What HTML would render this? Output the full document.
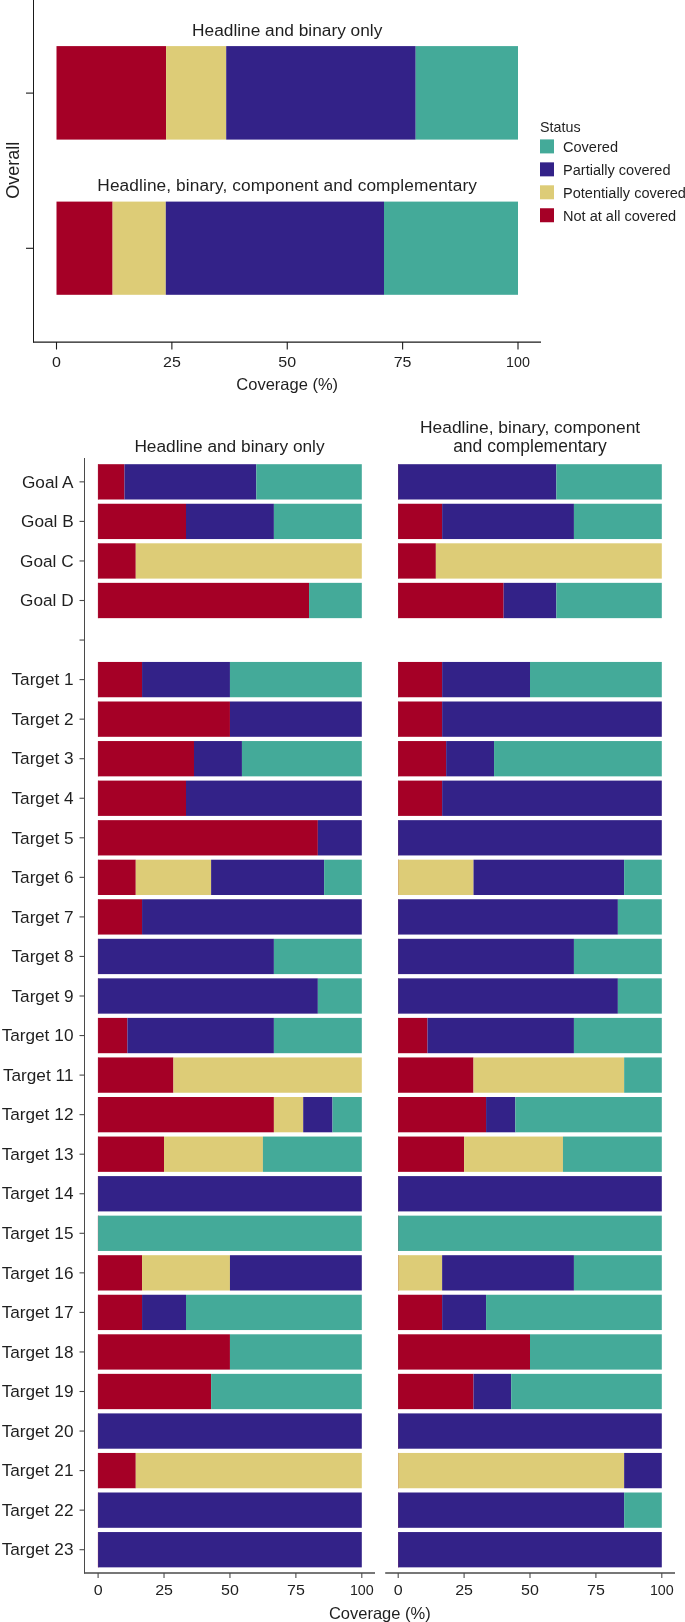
<!DOCTYPE html>
<html><head><meta charset="utf-8"><style>
html,body{margin:0;padding:0;background:#fff;overflow:hidden;}
svg{display:block;}
text{font-family:"Liberation Sans", sans-serif;fill:#1f1f1f;}
</style></head><body>
<div style="will-change:transform"><svg width="685" height="1622" viewBox="0 0 685 1622">
<rect width="685" height="1622" fill="#fff"/>
<line x1="33.5" y1="0" x2="33.5" y2="342.5" stroke="#1a1a1a" stroke-width="1"/>
<line x1="33" y1="342" x2="541" y2="342" stroke="#1a1a1a" stroke-width="1.25"/>
<line x1="26" y1="93.1" x2="33" y2="93.1" stroke="#1a1a1a" stroke-width="1.1"/>
<line x1="26" y1="248.3" x2="33" y2="248.3" stroke="#1a1a1a" stroke-width="1.1"/>
<line x1="56.5" y1="342" x2="56.5" y2="349.5" stroke="#1a1a1a" stroke-width="1.1"/>
<text transform="translate(56.50,366.80) scale(1.12,1)" font-size="14.3" text-anchor="middle">0</text>
<line x1="171.875" y1="342" x2="171.875" y2="349.5" stroke="#1a1a1a" stroke-width="1.1"/>
<text transform="translate(171.88,366.80) scale(1.12,1)" font-size="14.3" text-anchor="middle">25</text>
<line x1="287.25" y1="342" x2="287.25" y2="349.5" stroke="#1a1a1a" stroke-width="1.1"/>
<text transform="translate(287.25,366.80) scale(1.12,1)" font-size="14.3" text-anchor="middle">50</text>
<line x1="402.625" y1="342" x2="402.625" y2="349.5" stroke="#1a1a1a" stroke-width="1.1"/>
<text transform="translate(402.62,366.80) scale(1.12,1)" font-size="14.3" text-anchor="middle">75</text>
<line x1="518.0" y1="342" x2="518.0" y2="349.5" stroke="#1a1a1a" stroke-width="1.1"/>
<text transform="translate(518.00,366.80) scale(1.0,1)" font-size="14.3" text-anchor="middle">100</text>
<text x="287.20" y="389.70" font-size="16.5" text-anchor="middle" >Coverage (%)</text>
<rect x="56.50" y="46.10" width="109.60" height="93.50" fill="#A50026"/>
<rect x="166.10" y="46.10" width="60.10" height="93.50" fill="#DDCC77"/>
<rect x="226.20" y="46.10" width="189.50" height="93.50" fill="#332288"/>
<rect x="415.70" y="46.10" width="102.30" height="93.50" fill="#44AA99"/>
<rect x="56.50" y="201.60" width="56.10" height="93.20" fill="#A50026"/>
<rect x="112.60" y="201.60" width="53.20" height="93.20" fill="#DDCC77"/>
<rect x="165.80" y="201.60" width="218.20" height="93.20" fill="#332288"/>
<rect x="384.00" y="201.60" width="134.00" height="93.20" fill="#44AA99"/>
<text x="287.20" y="36.30" font-size="17.3" text-anchor="middle" >Headline and binary only</text>
<text x="287.20" y="190.90" font-size="17.3" text-anchor="middle" letter-spacing="0.1">Headline, binary, component and complementary</text>
<text x="0" y="0" font-size="18" text-anchor="middle" transform="translate(19.3,170.2) rotate(-90)">Overall</text>
<text x="540.00" y="131.50" font-size="14.3" text-anchor="start" >Status</text>
<rect x="540.00" y="139.40" width="14.00" height="14.00" fill="#44AA99"/>
<text x="563.00" y="151.80" font-size="14.55" text-anchor="start" >Covered</text>
<rect x="540.00" y="162.35" width="14.00" height="14.00" fill="#332288"/>
<text x="563.00" y="174.75" font-size="14.55" text-anchor="start" >Partially covered</text>
<rect x="540.00" y="185.30" width="14.00" height="14.00" fill="#DDCC77"/>
<text x="563.00" y="197.70" font-size="14.55" text-anchor="start" >Potentially covered</text>
<rect x="540.00" y="208.25" width="14.00" height="14.00" fill="#A50026"/>
<text x="563.00" y="220.65" font-size="14.55" text-anchor="start" >Not at all covered</text>
<line x1="79.5" y1="481.84999999999997" x2="84.5" y2="481.84999999999997" stroke="#4a4a4a" stroke-width="1.1"/>
<text x="73.60" y="487.55" font-size="17.2" text-anchor="end" >Goal A</text>
<rect x="97.90" y="464.20" width="0.70" height="35.30" fill="#A50026"/>
<rect x="98.10" y="464.20" width="26.37" height="35.30" fill="#A50026"/>
<rect x="124.47" y="464.20" width="131.85" height="35.30" fill="#332288"/>
<rect x="256.32" y="464.20" width="105.48" height="35.30" fill="#44AA99"/>
<rect x="398.00" y="464.20" width="0.70" height="35.30" fill="#A50026"/>
<rect x="398.20" y="464.20" width="158.16" height="35.30" fill="#332288"/>
<rect x="556.36" y="464.20" width="105.44" height="35.30" fill="#44AA99"/>
<line x1="79.5" y1="521.4" x2="84.5" y2="521.4" stroke="#4a4a4a" stroke-width="1.1"/>
<text x="73.60" y="527.10" font-size="17.2" text-anchor="end" >Goal B</text>
<rect x="97.90" y="503.75" width="0.70" height="35.30" fill="#A50026"/>
<rect x="98.10" y="503.75" width="87.90" height="35.30" fill="#A50026"/>
<rect x="186.00" y="503.75" width="87.90" height="35.30" fill="#332288"/>
<rect x="273.90" y="503.75" width="87.90" height="35.30" fill="#44AA99"/>
<rect x="398.00" y="503.75" width="0.70" height="35.30" fill="#A50026"/>
<rect x="398.20" y="503.75" width="43.93" height="35.30" fill="#A50026"/>
<rect x="442.13" y="503.75" width="131.80" height="35.30" fill="#332288"/>
<rect x="573.93" y="503.75" width="87.87" height="35.30" fill="#44AA99"/>
<line x1="79.5" y1="560.9499999999999" x2="84.5" y2="560.9499999999999" stroke="#4a4a4a" stroke-width="1.1"/>
<text x="73.60" y="566.65" font-size="17.2" text-anchor="end" >Goal C</text>
<rect x="97.90" y="543.30" width="0.70" height="35.30" fill="#A50026"/>
<rect x="98.10" y="543.30" width="37.67" height="35.30" fill="#A50026"/>
<rect x="135.77" y="543.30" width="226.03" height="35.30" fill="#DDCC77"/>
<rect x="398.00" y="543.30" width="0.70" height="35.30" fill="#A50026"/>
<rect x="398.20" y="543.30" width="37.66" height="35.30" fill="#A50026"/>
<rect x="435.86" y="543.30" width="225.94" height="35.30" fill="#DDCC77"/>
<line x1="79.5" y1="600.5" x2="84.5" y2="600.5" stroke="#4a4a4a" stroke-width="1.1"/>
<text x="73.60" y="606.20" font-size="17.2" text-anchor="end" >Goal D</text>
<rect x="97.90" y="582.85" width="0.70" height="35.30" fill="#A50026"/>
<rect x="98.10" y="582.85" width="210.96" height="35.30" fill="#A50026"/>
<rect x="309.06" y="582.85" width="52.74" height="35.30" fill="#44AA99"/>
<rect x="398.00" y="582.85" width="0.70" height="35.30" fill="#A50026"/>
<rect x="398.20" y="582.85" width="105.44" height="35.30" fill="#A50026"/>
<rect x="503.64" y="582.85" width="52.72" height="35.30" fill="#332288"/>
<rect x="556.36" y="582.85" width="105.44" height="35.30" fill="#44AA99"/>
<line x1="79.5" y1="640.05" x2="84.5" y2="640.05" stroke="#4a4a4a" stroke-width="1.1"/>
<line x1="79.5" y1="679.6" x2="84.5" y2="679.6" stroke="#4a4a4a" stroke-width="1.1"/>
<text x="73.60" y="685.30" font-size="17.2" text-anchor="end" >Target 1</text>
<rect x="97.90" y="661.95" width="0.70" height="35.30" fill="#A50026"/>
<rect x="98.10" y="661.95" width="43.95" height="35.30" fill="#A50026"/>
<rect x="142.05" y="661.95" width="87.90" height="35.30" fill="#332288"/>
<rect x="229.95" y="661.95" width="131.85" height="35.30" fill="#44AA99"/>
<rect x="398.00" y="661.95" width="0.70" height="35.30" fill="#A50026"/>
<rect x="398.20" y="661.95" width="43.93" height="35.30" fill="#A50026"/>
<rect x="442.13" y="661.95" width="87.87" height="35.30" fill="#332288"/>
<rect x="530.00" y="661.95" width="131.80" height="35.30" fill="#44AA99"/>
<line x1="79.5" y1="719.15" x2="84.5" y2="719.15" stroke="#4a4a4a" stroke-width="1.1"/>
<text x="73.60" y="724.85" font-size="17.2" text-anchor="end" >Target 2</text>
<rect x="97.90" y="701.50" width="0.70" height="35.30" fill="#A50026"/>
<rect x="98.10" y="701.50" width="131.85" height="35.30" fill="#A50026"/>
<rect x="229.95" y="701.50" width="131.85" height="35.30" fill="#332288"/>
<rect x="398.00" y="701.50" width="0.70" height="35.30" fill="#A50026"/>
<rect x="398.20" y="701.50" width="43.93" height="35.30" fill="#A50026"/>
<rect x="442.13" y="701.50" width="219.67" height="35.30" fill="#332288"/>
<line x1="79.5" y1="758.6999999999999" x2="84.5" y2="758.6999999999999" stroke="#4a4a4a" stroke-width="1.1"/>
<text x="73.60" y="764.40" font-size="17.2" text-anchor="end" >Target 3</text>
<rect x="97.90" y="741.05" width="0.70" height="35.30" fill="#A50026"/>
<rect x="98.10" y="741.05" width="95.89" height="35.30" fill="#A50026"/>
<rect x="193.99" y="741.05" width="47.95" height="35.30" fill="#332288"/>
<rect x="241.94" y="741.05" width="119.86" height="35.30" fill="#44AA99"/>
<rect x="398.00" y="741.05" width="0.70" height="35.30" fill="#A50026"/>
<rect x="398.20" y="741.05" width="47.93" height="35.30" fill="#A50026"/>
<rect x="446.13" y="741.05" width="47.93" height="35.30" fill="#332288"/>
<rect x="494.05" y="741.05" width="167.75" height="35.30" fill="#44AA99"/>
<line x1="79.5" y1="798.2499999999999" x2="84.5" y2="798.2499999999999" stroke="#4a4a4a" stroke-width="1.1"/>
<text x="73.60" y="803.95" font-size="17.2" text-anchor="end" >Target 4</text>
<rect x="97.90" y="780.60" width="0.70" height="35.30" fill="#A50026"/>
<rect x="98.10" y="780.60" width="87.90" height="35.30" fill="#A50026"/>
<rect x="186.00" y="780.60" width="175.80" height="35.30" fill="#332288"/>
<rect x="398.00" y="780.60" width="0.70" height="35.30" fill="#A50026"/>
<rect x="398.20" y="780.60" width="43.93" height="35.30" fill="#A50026"/>
<rect x="442.13" y="780.60" width="219.67" height="35.30" fill="#332288"/>
<line x1="79.5" y1="837.8" x2="84.5" y2="837.8" stroke="#4a4a4a" stroke-width="1.1"/>
<text x="73.60" y="843.50" font-size="17.2" text-anchor="end" >Target 5</text>
<rect x="97.90" y="820.15" width="0.70" height="35.30" fill="#A50026"/>
<rect x="98.10" y="820.15" width="219.75" height="35.30" fill="#A50026"/>
<rect x="317.85" y="820.15" width="43.95" height="35.30" fill="#332288"/>
<rect x="398.00" y="820.15" width="0.70" height="35.30" fill="#A50026"/>
<rect x="398.20" y="820.15" width="263.60" height="35.30" fill="#332288"/>
<line x1="79.5" y1="877.35" x2="84.5" y2="877.35" stroke="#4a4a4a" stroke-width="1.1"/>
<text x="73.60" y="883.05" font-size="17.2" text-anchor="end" >Target 6</text>
<rect x="97.90" y="859.70" width="0.70" height="35.30" fill="#A50026"/>
<rect x="98.10" y="859.70" width="37.67" height="35.30" fill="#A50026"/>
<rect x="135.77" y="859.70" width="75.34" height="35.30" fill="#DDCC77"/>
<rect x="211.11" y="859.70" width="113.01" height="35.30" fill="#332288"/>
<rect x="324.13" y="859.70" width="37.67" height="35.30" fill="#44AA99"/>
<rect x="398.00" y="859.70" width="0.70" height="35.30" fill="#A50026"/>
<rect x="398.20" y="859.70" width="75.31" height="35.30" fill="#DDCC77"/>
<rect x="473.51" y="859.70" width="150.63" height="35.30" fill="#332288"/>
<rect x="624.14" y="859.70" width="37.66" height="35.30" fill="#44AA99"/>
<line x1="79.5" y1="916.9" x2="84.5" y2="916.9" stroke="#4a4a4a" stroke-width="1.1"/>
<text x="73.60" y="922.60" font-size="17.2" text-anchor="end" >Target 7</text>
<rect x="97.90" y="899.25" width="0.70" height="35.30" fill="#A50026"/>
<rect x="98.10" y="899.25" width="43.95" height="35.30" fill="#A50026"/>
<rect x="142.05" y="899.25" width="219.75" height="35.30" fill="#332288"/>
<rect x="398.00" y="899.25" width="0.70" height="35.30" fill="#A50026"/>
<rect x="398.20" y="899.25" width="219.67" height="35.30" fill="#332288"/>
<rect x="617.87" y="899.25" width="43.93" height="35.30" fill="#44AA99"/>
<line x1="79.5" y1="956.4499999999999" x2="84.5" y2="956.4499999999999" stroke="#4a4a4a" stroke-width="1.1"/>
<text x="73.60" y="962.15" font-size="17.2" text-anchor="end" >Target 8</text>
<rect x="97.90" y="938.80" width="0.70" height="35.30" fill="#A50026"/>
<rect x="98.10" y="938.80" width="175.80" height="35.30" fill="#332288"/>
<rect x="273.90" y="938.80" width="87.90" height="35.30" fill="#44AA99"/>
<rect x="398.00" y="938.80" width="0.70" height="35.30" fill="#A50026"/>
<rect x="398.20" y="938.80" width="175.73" height="35.30" fill="#332288"/>
<rect x="573.93" y="938.80" width="87.87" height="35.30" fill="#44AA99"/>
<line x1="79.5" y1="995.9999999999999" x2="84.5" y2="995.9999999999999" stroke="#4a4a4a" stroke-width="1.1"/>
<text x="73.60" y="1001.70" font-size="17.2" text-anchor="end" >Target 9</text>
<rect x="97.90" y="978.35" width="0.70" height="35.30" fill="#A50026"/>
<rect x="98.10" y="978.35" width="219.75" height="35.30" fill="#332288"/>
<rect x="317.85" y="978.35" width="43.95" height="35.30" fill="#44AA99"/>
<rect x="398.00" y="978.35" width="0.70" height="35.30" fill="#A50026"/>
<rect x="398.20" y="978.35" width="219.67" height="35.30" fill="#332288"/>
<rect x="617.87" y="978.35" width="43.93" height="35.30" fill="#44AA99"/>
<line x1="79.5" y1="1035.55" x2="84.5" y2="1035.55" stroke="#4a4a4a" stroke-width="1.1"/>
<text x="73.60" y="1041.25" font-size="17.2" text-anchor="end" >Target 1<tspan dx="0.3">0</tspan></text>
<rect x="97.90" y="1017.90" width="0.70" height="35.30" fill="#A50026"/>
<rect x="98.10" y="1017.90" width="29.30" height="35.30" fill="#A50026"/>
<rect x="127.40" y="1017.90" width="146.50" height="35.30" fill="#332288"/>
<rect x="273.90" y="1017.90" width="87.90" height="35.30" fill="#44AA99"/>
<rect x="398.00" y="1017.90" width="0.70" height="35.30" fill="#A50026"/>
<rect x="398.20" y="1017.90" width="29.29" height="35.30" fill="#A50026"/>
<rect x="427.49" y="1017.90" width="146.44" height="35.30" fill="#332288"/>
<rect x="573.93" y="1017.90" width="87.87" height="35.30" fill="#44AA99"/>
<line x1="79.5" y1="1075.1000000000001" x2="84.5" y2="1075.1000000000001" stroke="#4a4a4a" stroke-width="1.1"/>
<text x="73.60" y="1080.80" font-size="17.2" text-anchor="end" >Target 1<tspan dx="0.3">1</tspan></text>
<rect x="97.90" y="1057.45" width="0.70" height="35.30" fill="#A50026"/>
<rect x="98.10" y="1057.45" width="75.34" height="35.30" fill="#A50026"/>
<rect x="173.44" y="1057.45" width="188.36" height="35.30" fill="#DDCC77"/>
<rect x="398.00" y="1057.45" width="0.70" height="35.30" fill="#A50026"/>
<rect x="398.20" y="1057.45" width="75.31" height="35.30" fill="#A50026"/>
<rect x="473.51" y="1057.45" width="150.63" height="35.30" fill="#DDCC77"/>
<rect x="624.14" y="1057.45" width="37.66" height="35.30" fill="#44AA99"/>
<line x1="79.5" y1="1114.65" x2="84.5" y2="1114.65" stroke="#4a4a4a" stroke-width="1.1"/>
<text x="73.60" y="1120.35" font-size="17.2" text-anchor="end" >Target 1<tspan dx="0.3">2</tspan></text>
<rect x="97.90" y="1097.00" width="0.70" height="35.30" fill="#A50026"/>
<rect x="98.10" y="1097.00" width="175.80" height="35.30" fill="#A50026"/>
<rect x="273.90" y="1097.00" width="29.30" height="35.30" fill="#DDCC77"/>
<rect x="303.20" y="1097.00" width="29.30" height="35.30" fill="#332288"/>
<rect x="332.50" y="1097.00" width="29.30" height="35.30" fill="#44AA99"/>
<rect x="398.00" y="1097.00" width="0.70" height="35.30" fill="#A50026"/>
<rect x="398.20" y="1097.00" width="87.87" height="35.30" fill="#A50026"/>
<rect x="486.07" y="1097.00" width="29.29" height="35.30" fill="#332288"/>
<rect x="515.36" y="1097.00" width="146.44" height="35.30" fill="#44AA99"/>
<line x1="79.5" y1="1154.2" x2="84.5" y2="1154.2" stroke="#4a4a4a" stroke-width="1.1"/>
<text x="73.60" y="1159.90" font-size="17.2" text-anchor="end" >Target 1<tspan dx="0.3">3</tspan></text>
<rect x="97.90" y="1136.55" width="0.70" height="35.30" fill="#A50026"/>
<rect x="98.10" y="1136.55" width="65.93" height="35.30" fill="#A50026"/>
<rect x="164.03" y="1136.55" width="98.89" height="35.30" fill="#DDCC77"/>
<rect x="262.91" y="1136.55" width="98.89" height="35.30" fill="#44AA99"/>
<rect x="398.00" y="1136.55" width="0.70" height="35.30" fill="#A50026"/>
<rect x="398.20" y="1136.55" width="65.90" height="35.30" fill="#A50026"/>
<rect x="464.10" y="1136.55" width="98.85" height="35.30" fill="#DDCC77"/>
<rect x="562.95" y="1136.55" width="98.85" height="35.30" fill="#44AA99"/>
<line x1="79.5" y1="1193.75" x2="84.5" y2="1193.75" stroke="#4a4a4a" stroke-width="1.1"/>
<text x="73.60" y="1199.45" font-size="17.2" text-anchor="end" >Target 1<tspan dx="0.3">4</tspan></text>
<rect x="97.90" y="1176.10" width="0.70" height="35.30" fill="#A50026"/>
<rect x="98.10" y="1176.10" width="263.70" height="35.30" fill="#332288"/>
<rect x="398.00" y="1176.10" width="0.70" height="35.30" fill="#A50026"/>
<rect x="398.20" y="1176.10" width="263.60" height="35.30" fill="#332288"/>
<line x1="79.5" y1="1233.3" x2="84.5" y2="1233.3" stroke="#4a4a4a" stroke-width="1.1"/>
<text x="73.60" y="1239.00" font-size="17.2" text-anchor="end" >Target 1<tspan dx="0.3">5</tspan></text>
<rect x="97.90" y="1215.65" width="0.70" height="35.30" fill="#A50026"/>
<rect x="98.10" y="1215.65" width="263.70" height="35.30" fill="#44AA99"/>
<rect x="398.00" y="1215.65" width="0.70" height="35.30" fill="#A50026"/>
<rect x="398.20" y="1215.65" width="263.60" height="35.30" fill="#44AA99"/>
<line x1="79.5" y1="1272.8500000000001" x2="84.5" y2="1272.8500000000001" stroke="#4a4a4a" stroke-width="1.1"/>
<text x="73.60" y="1278.55" font-size="17.2" text-anchor="end" >Target 1<tspan dx="0.3">6</tspan></text>
<rect x="97.90" y="1255.20" width="0.70" height="35.30" fill="#A50026"/>
<rect x="98.10" y="1255.20" width="43.95" height="35.30" fill="#A50026"/>
<rect x="142.05" y="1255.20" width="87.90" height="35.30" fill="#DDCC77"/>
<rect x="229.95" y="1255.20" width="131.85" height="35.30" fill="#332288"/>
<rect x="398.00" y="1255.20" width="0.70" height="35.30" fill="#A50026"/>
<rect x="398.20" y="1255.20" width="43.93" height="35.30" fill="#DDCC77"/>
<rect x="442.13" y="1255.20" width="131.80" height="35.30" fill="#332288"/>
<rect x="573.93" y="1255.20" width="87.87" height="35.30" fill="#44AA99"/>
<line x1="79.5" y1="1312.4" x2="84.5" y2="1312.4" stroke="#4a4a4a" stroke-width="1.1"/>
<text x="73.60" y="1318.10" font-size="17.2" text-anchor="end" >Target 1<tspan dx="0.3">7</tspan></text>
<rect x="97.90" y="1294.75" width="0.70" height="35.30" fill="#A50026"/>
<rect x="98.10" y="1294.75" width="43.95" height="35.30" fill="#A50026"/>
<rect x="142.05" y="1294.75" width="43.95" height="35.30" fill="#332288"/>
<rect x="186.00" y="1294.75" width="175.80" height="35.30" fill="#44AA99"/>
<rect x="398.00" y="1294.75" width="0.70" height="35.30" fill="#A50026"/>
<rect x="398.20" y="1294.75" width="43.93" height="35.30" fill="#A50026"/>
<rect x="442.13" y="1294.75" width="43.93" height="35.30" fill="#332288"/>
<rect x="486.07" y="1294.75" width="175.73" height="35.30" fill="#44AA99"/>
<line x1="79.5" y1="1351.95" x2="84.5" y2="1351.95" stroke="#4a4a4a" stroke-width="1.1"/>
<text x="73.60" y="1357.65" font-size="17.2" text-anchor="end" >Target 1<tspan dx="0.3">8</tspan></text>
<rect x="97.90" y="1334.30" width="0.70" height="35.30" fill="#A50026"/>
<rect x="98.10" y="1334.30" width="131.85" height="35.30" fill="#A50026"/>
<rect x="229.95" y="1334.30" width="131.85" height="35.30" fill="#44AA99"/>
<rect x="398.00" y="1334.30" width="0.70" height="35.30" fill="#A50026"/>
<rect x="398.20" y="1334.30" width="131.80" height="35.30" fill="#A50026"/>
<rect x="530.00" y="1334.30" width="131.80" height="35.30" fill="#44AA99"/>
<line x1="79.5" y1="1391.5" x2="84.5" y2="1391.5" stroke="#4a4a4a" stroke-width="1.1"/>
<text x="73.60" y="1397.20" font-size="17.2" text-anchor="end" >Target 1<tspan dx="0.3">9</tspan></text>
<rect x="97.90" y="1373.85" width="0.70" height="35.30" fill="#A50026"/>
<rect x="98.10" y="1373.85" width="113.01" height="35.30" fill="#A50026"/>
<rect x="211.11" y="1373.85" width="150.69" height="35.30" fill="#44AA99"/>
<rect x="398.00" y="1373.85" width="0.70" height="35.30" fill="#A50026"/>
<rect x="398.20" y="1373.85" width="75.31" height="35.30" fill="#A50026"/>
<rect x="473.51" y="1373.85" width="37.66" height="35.30" fill="#332288"/>
<rect x="511.17" y="1373.85" width="150.63" height="35.30" fill="#44AA99"/>
<line x1="79.5" y1="1431.05" x2="84.5" y2="1431.05" stroke="#4a4a4a" stroke-width="1.1"/>
<text x="73.60" y="1436.75" font-size="17.2" text-anchor="end" >Target 2<tspan dx="0.3">0</tspan></text>
<rect x="97.90" y="1413.40" width="0.70" height="35.30" fill="#A50026"/>
<rect x="98.10" y="1413.40" width="263.70" height="35.30" fill="#332288"/>
<rect x="398.00" y="1413.40" width="0.70" height="35.30" fill="#A50026"/>
<rect x="398.20" y="1413.40" width="263.60" height="35.30" fill="#332288"/>
<line x1="79.5" y1="1470.6" x2="84.5" y2="1470.6" stroke="#4a4a4a" stroke-width="1.1"/>
<text x="73.60" y="1476.30" font-size="17.2" text-anchor="end" >Target 2<tspan dx="0.3">1</tspan></text>
<rect x="97.90" y="1452.95" width="0.70" height="35.30" fill="#A50026"/>
<rect x="98.10" y="1452.95" width="37.67" height="35.30" fill="#A50026"/>
<rect x="135.77" y="1452.95" width="226.03" height="35.30" fill="#DDCC77"/>
<rect x="398.00" y="1452.95" width="0.70" height="35.30" fill="#A50026"/>
<rect x="398.20" y="1452.95" width="225.94" height="35.30" fill="#DDCC77"/>
<rect x="624.14" y="1452.95" width="37.66" height="35.30" fill="#332288"/>
<line x1="79.5" y1="1510.15" x2="84.5" y2="1510.15" stroke="#4a4a4a" stroke-width="1.1"/>
<text x="73.60" y="1515.85" font-size="17.2" text-anchor="end" >Target 2<tspan dx="0.3">2</tspan></text>
<rect x="97.90" y="1492.50" width="0.70" height="35.30" fill="#A50026"/>
<rect x="98.10" y="1492.50" width="263.70" height="35.30" fill="#332288"/>
<rect x="398.00" y="1492.50" width="0.70" height="35.30" fill="#A50026"/>
<rect x="398.20" y="1492.50" width="225.94" height="35.30" fill="#332288"/>
<rect x="624.14" y="1492.50" width="37.66" height="35.30" fill="#44AA99"/>
<line x1="79.5" y1="1549.7" x2="84.5" y2="1549.7" stroke="#4a4a4a" stroke-width="1.1"/>
<text x="73.60" y="1555.40" font-size="17.2" text-anchor="end" >Target 2<tspan dx="0.3">3</tspan></text>
<rect x="97.90" y="1532.05" width="0.70" height="35.30" fill="#A50026"/>
<rect x="98.10" y="1532.05" width="263.70" height="35.30" fill="#332288"/>
<rect x="398.00" y="1532.05" width="0.70" height="35.30" fill="#A50026"/>
<rect x="398.20" y="1532.05" width="263.60" height="35.30" fill="#332288"/>
<line x1="84.5" y1="458" x2="84.5" y2="1573.5" stroke="#4a4a4a" stroke-width="1"/>
<line x1="84" y1="1573" x2="375" y2="1573" stroke="#4a4a4a" stroke-width="1.3"/>
<line x1="385.2" y1="1573" x2="675" y2="1573" stroke="#4a4a4a" stroke-width="1.3"/>
<line x1="98.1" y1="1573" x2="98.1" y2="1578" stroke="#4a4a4a" stroke-width="1.1"/>
<text transform="translate(98.10,1595.30) scale(1.12,1)" font-size="14.3" text-anchor="middle">0</text>
<line x1="164.025" y1="1573" x2="164.025" y2="1578" stroke="#4a4a4a" stroke-width="1.1"/>
<text transform="translate(164.03,1595.30) scale(1.12,1)" font-size="14.3" text-anchor="middle">25</text>
<line x1="229.95000000000002" y1="1573" x2="229.95000000000002" y2="1578" stroke="#4a4a4a" stroke-width="1.1"/>
<text transform="translate(229.95,1595.30) scale(1.12,1)" font-size="14.3" text-anchor="middle">50</text>
<line x1="295.875" y1="1573" x2="295.875" y2="1578" stroke="#4a4a4a" stroke-width="1.1"/>
<text transform="translate(295.88,1595.30) scale(1.12,1)" font-size="14.3" text-anchor="middle">75</text>
<line x1="361.80000000000007" y1="1573" x2="361.80000000000007" y2="1578" stroke="#4a4a4a" stroke-width="1.1"/>
<text transform="translate(361.80,1595.30) scale(1.0,1)" font-size="14.3" text-anchor="middle">100</text>
<line x1="398.2" y1="1573" x2="398.2" y2="1578" stroke="#4a4a4a" stroke-width="1.1"/>
<text transform="translate(398.20,1595.30) scale(1.12,1)" font-size="14.3" text-anchor="middle">0</text>
<line x1="464.09999999999997" y1="1573" x2="464.09999999999997" y2="1578" stroke="#4a4a4a" stroke-width="1.1"/>
<text transform="translate(464.10,1595.30) scale(1.12,1)" font-size="14.3" text-anchor="middle">25</text>
<line x1="530.0" y1="1573" x2="530.0" y2="1578" stroke="#4a4a4a" stroke-width="1.1"/>
<text transform="translate(530.00,1595.30) scale(1.12,1)" font-size="14.3" text-anchor="middle">50</text>
<line x1="595.9" y1="1573" x2="595.9" y2="1578" stroke="#4a4a4a" stroke-width="1.1"/>
<text transform="translate(595.90,1595.30) scale(1.12,1)" font-size="14.3" text-anchor="middle">75</text>
<line x1="661.8" y1="1573" x2="661.8" y2="1578" stroke="#4a4a4a" stroke-width="1.1"/>
<text transform="translate(661.80,1595.30) scale(1.0,1)" font-size="14.3" text-anchor="middle">100</text>
<text x="379.80" y="1618.50" font-size="16.5" text-anchor="middle" >Coverage (%)</text>
<text x="229.50" y="451.80" font-size="17.3" text-anchor="middle" >Headline and binary only</text>
<text x="530.10" y="433.00" font-size="17.4" text-anchor="middle" >Headline, binary, component</text>
<text x="530.00" y="451.80" font-size="17.5" text-anchor="middle" >and complementary</text>
</svg></div></body></html>
